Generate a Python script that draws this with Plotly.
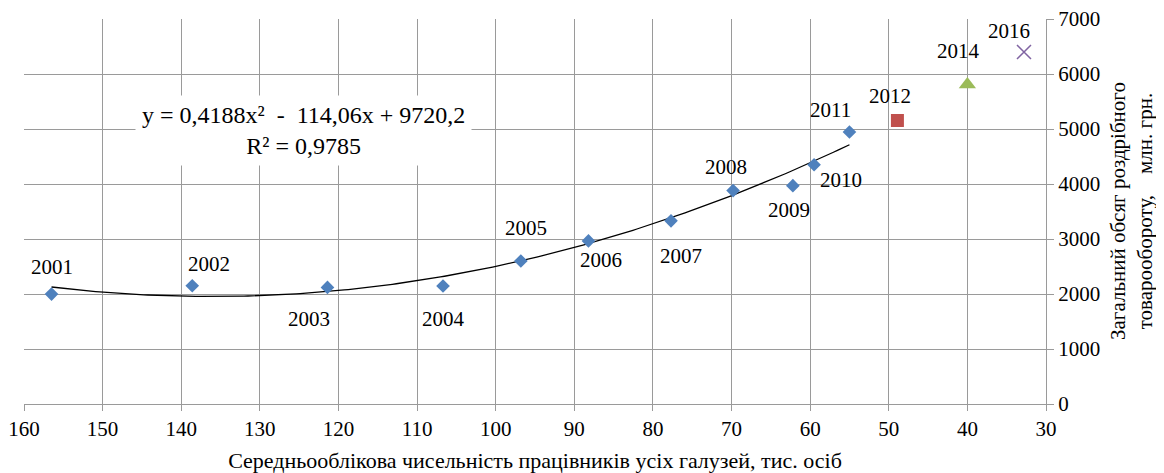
import numpy as np
import plotly.graph_objects as go

# ---- data ----
years_main = ["2001", "2002", "2003", "2004", "2005", "2006", "2007", "2008", "2009", "2010", "2011"]
workers_main = [156.5, 138.6, 121.4, 106.7, 96.8, 88.2, 77.7, 69.8, 62.2, 59.5, 55.0]
turnover_main = [1998, 2150, 2120, 2145, 2600, 2965, 3330, 3880, 3970, 4350, 4945]

year_2012 = ["2012"]
workers_2012 = [48.9]
turnover_2012 = [5155]

year_2014 = ["2014"]
workers_2014 = [40.0]
turnover_2014 = [5810]

year_2016 = ["2016"]
workers_2016 = [32.8]
turnover_2016 = [6400]

# polynomial trend (as printed on the chart): y = a x^2 + b x + c
trend_coeffs = [0.4188, -114.06, 9720.2]
trend_label = "y = 0,4188x²  -  114,06x + 9720,2<br>R² = 0,9785"

x_ticks = [160, 150, 140, 130, 120, 110, 100, 90, 80, 70, 60, 50, 40, 30]
y_ticks = [0, 1000, 2000, 3000, 4000, 5000, 6000, 7000]

x_title = "Середньооблікова чисельність працівників усіх галузей, тис. осіб"
y_title = "Загальний обсяг роздрібного<br>товарообороту,    млн. грн."

# label offsets (pixels, style only)
label_offsets = {
    "2001": (0, -27), "2002": (17, -22), "2003": (-18, 32), "2004": (0, 33),
    "2005": (5, -33), "2006": (13, 19), "2007": (10, 35), "2008": (-7, -24),
    "2009": (-4, 24), "2010": (27, 15), "2011": (-19, -22), "2012": (-7, -24),
    "2014": (-9, -33), "2016": (-15, -21),
}

FONT = "Liberation Serif"
BLUE = "#4F81BD"
RED = "#C0504D"
GREEN = "#9BBB59"
PURPLE = "#8064A2"
GRID = "#9a9a9a"

fig = go.Figure()

# trendline
xt = np.linspace(max(workers_main), min(workers_main), 200)
yt = np.polyval(trend_coeffs, xt)
fig.add_trace(go.Scatter(x=xt, y=yt, mode="lines",
                         line=dict(color="black", width=1.3),
                         hoverinfo="skip", showlegend=False))

fig.add_trace(go.Scatter(x=workers_main, y=turnover_main, mode="markers",
                         marker=dict(symbol="diamond", size=10.5, color=BLUE),
                         showlegend=False))
fig.add_trace(go.Scatter(x=workers_2012, y=turnover_2012, mode="markers",
                         marker=dict(symbol="square", size=13, color=RED),
                         showlegend=False))
fig.add_trace(go.Scatter(x=workers_2014, y=turnover_2014, mode="markers",
                         marker=dict(symbol="triangle-up", size=15, color=GREEN),
                         showlegend=False))
fig.add_trace(go.Scatter(x=workers_2016, y=turnover_2016, mode="markers",
                         marker=dict(symbol="x-thin", size=14,
                                     line=dict(color=PURPLE, width=1.5)),
                         showlegend=False))

annotations = []
all_pts = (list(zip(years_main, workers_main, turnover_main))
           + list(zip(year_2012, workers_2012, turnover_2012))
           + list(zip(year_2014, workers_2014, turnover_2014))
           + list(zip(year_2016, workers_2016, turnover_2016)))
for yr, xv, yv in all_pts:
    dx, dy = label_offsets[yr]
    annotations.append(dict(x=xv, y=yv, xref="x", yref="y", text=yr,
                            showarrow=False, xshift=dx, yshift=-dy,
                            font=dict(family=FONT, size=21, color="black")))

# trend equation box
annotations.append(dict(x=124.5, y=4994, xref="x", yref="y", text=trend_label,
                        showarrow=False, align="center", bgcolor="white",
                        borderpad=6, yshift=-1,
                        font=dict(family=FONT, size=24, color="black")))

# y axis title (right side, rotated)
annotations.append(dict(x=1.0837, y=0.5, xref="paper", yref="paper", text=y_title,
                        showarrow=False, textangle=-90, align="center",
                        xanchor="center", yanchor="middle",
                        font=dict(family=FONT, size=21, color="black")))

fig.update_layout(
    width=1156, height=465,
    margin=dict(l=16, r=118, t=11, b=69, autoexpand=False),
    paper_bgcolor="white", plot_bgcolor="white",
    font=dict(family=FONT, size=21, color="black"),
    annotations=annotations,
    xaxis=dict(range=[160, 30], tickvals=x_ticks, showgrid=True, gridcolor=GRID,
               gridwidth=1, zeroline=False, showline=True, linecolor=GRID,
               ticks="outside", ticklen=6, tickcolor=GRID, automargin=False,
               ticklabeloverflow="allow",
               tickfont=dict(family=FONT, size=21),
               title=dict(text=x_title, font=dict(family=FONT, size=22), standoff=12)),
    yaxis=dict(range=[0, 7000], tickvals=y_ticks, side="right", showgrid=True,
               gridcolor=GRID, gridwidth=1, zeroline=False, showline=True,
               linecolor=GRID, ticks="outside", ticklen=7, tickcolor=GRID,
               automargin=False, ticklabeloverflow="allow",
               tickfont=dict(family=FONT, size=21)),
)

fig.write_html("out.html")
